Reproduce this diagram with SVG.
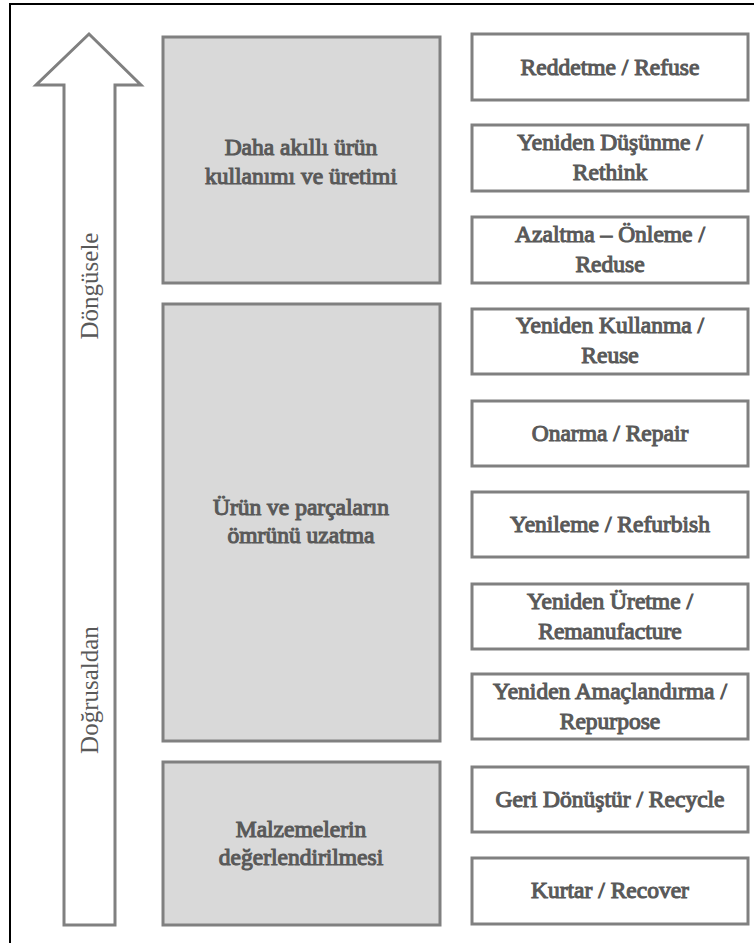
<svg xmlns="http://www.w3.org/2000/svg" width="754" height="943" viewBox="0 0 754 943">
<style>
.frame{fill:#fff;stroke:#000;stroke-width:2}
.arrow{fill:#fff;stroke:#808080;stroke-width:3}
.grp{fill:#d9d9d9;stroke:#808080;stroke-width:3}
.box{fill:#fff;stroke:#808080;stroke-width:3}
.t{font-family:"Liberation Serif","Times New Roman",serif;font-weight:normal;font-size:23.5px;fill:#595959;stroke:#595959;stroke-width:1.1;text-anchor:middle}
.v{font-family:"Liberation Serif","Times New Roman",serif;font-size:25px;fill:#595959;text-anchor:middle}
</style>
<rect class="frame" x="10" y="4" width="760" height="960"/>
<g id="arrow">
<polygon class="arrow" points="89,34 141,85 115,85 115,925 64,925 64,85 36,85"/>
<text class="v" transform="translate(98,286) rotate(-90)">Döngüsele</text>
<text class="v" transform="translate(98,690) rotate(-90)">Doğrusaldan</text>
</g>
<g id="group1"><rect class="grp" x="163" y="37" width="277" height="246"/>
<text class="t" x="301" y="155">Daha akıllı ürün</text><text class="t" x="301" y="184">kullanımı ve üretimi</text></g>
<g id="group2"><rect class="grp" x="163" y="304" width="277" height="437"/>
<text class="t" x="301" y="515">Ürün ve parçaların</text><text class="t" x="301" y="543">ömrünü uzatma</text></g>
<g id="group3"><rect class="grp" x="163" y="762" width="277" height="163"/>
<text class="t" x="301" y="837">Malzemelerin</text><text class="t" x="301" y="865">değerlendirilmesi</text></g>
<g id="refuse"><rect class="box" x="472" y="34" width="276" height="66"/>
<text class="t" x="610" y="75">Reddetme / Refuse</text></g>
<g id="rethink"><rect class="box" x="472" y="125" width="276" height="66"/>
<text class="t" x="610" y="150">Yeniden Düşünme /</text><text class="t" x="610" y="180">Rethink</text></g>
<g id="reduse"><rect class="box" x="472" y="217" width="276" height="66"/>
<text class="t" x="610" y="242">Azaltma – Önleme /</text><text class="t" x="610" y="272">Reduse</text></g>
<g id="reuse"><rect class="box" x="472" y="309" width="276" height="65"/>
<text class="t" x="610" y="333">Yeniden Kullanma /</text><text class="t" x="610" y="363">Reuse</text></g>
<g id="repair"><rect class="box" x="472" y="401" width="276" height="65"/>
<text class="t" x="610" y="441">Onarma / Repair</text></g>
<g id="refurbish"><rect class="box" x="472" y="492" width="276" height="65"/>
<text class="t" x="610" y="532">Yenileme / Refurbish</text></g>
<g id="remanufacture"><rect class="box" x="472" y="584" width="276" height="65"/>
<text class="t" x="610" y="609">Yeniden Üretme /</text><text class="t" x="610" y="639">Remanufacture</text></g>
<g id="repurpose"><rect class="box" x="472" y="674" width="276" height="65"/>
<text class="t" x="610" y="699">Yeniden Amaçlandırma /</text><text class="t" x="610" y="729">Repurpose</text></g>
<g id="recycle"><rect class="box" x="472" y="767" width="276" height="65"/>
<text class="t" x="610" y="807">Geri Dönüştür / Recycle</text></g>
<g id="recover"><rect class="box" x="472" y="858" width="276" height="66"/>
<text class="t" x="610" y="898">Kurtar / Recover</text></g>
<g id="connectors"/>
</svg>
